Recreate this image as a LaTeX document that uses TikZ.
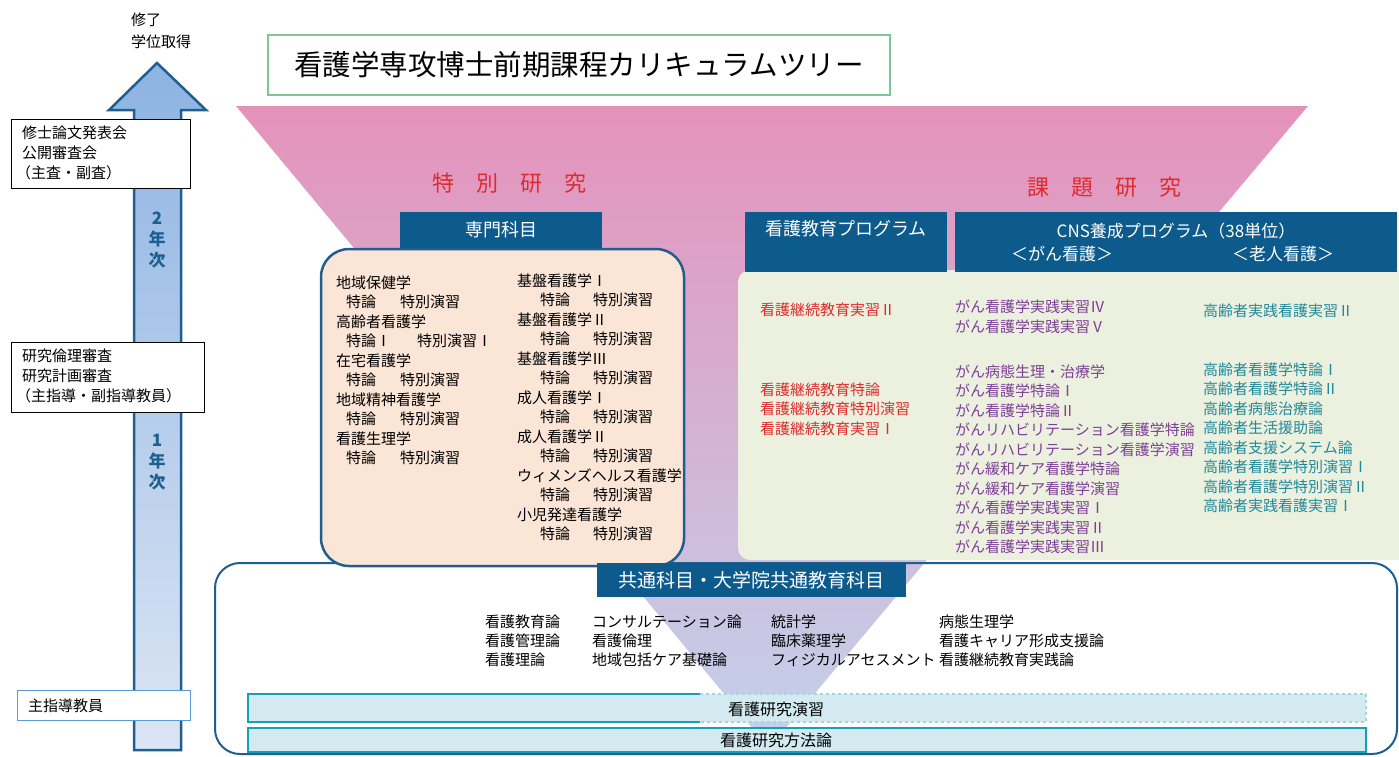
\documentclass[tikz,border=0pt]{standalone}
\usepackage{fontspec}
\setmainfont{Noto Sans CJK JP}
\definecolor{navy}{HTML}{0C5B8C}
\definecolor{edgeblue}{HTML}{1F5F8F}
\definecolor{peach}{HTML}{FBE5D6}
\definecolor{paleg}{HTML}{EBF1DE}
\definecolor{redt}{HTML}{DD2B2E}
\definecolor{purt}{HTML}{7E3F98}
\definecolor{tealt}{HTML}{22899A}
\definecolor{barfill}{HTML}{D2EAF0}
\definecolor{barline}{HTML}{14A0B6}
\definecolor{barlight}{HTML}{A5D6E0}
\definecolor{titleg}{HTML}{7DC794}
\definecolor{funtop}{HTML}{E592BB}
\definecolor{funmid}{HTML}{D3C2E4}
\definecolor{funbot}{HTML}{C3D2EC}
\definecolor{arrtop}{HTML}{8DB3E2}
\definecolor{arrbot}{HTML}{DCE5F4}
\definecolor{infobox}{HTML}{5B9BD5}
\begin{document}
\begin{tikzpicture}[x=1pt,y=-1pt,
  every node/.style={inner sep=0pt},
  txt/.style={anchor=base west,font=\fontsize{15}{19}\selectfont},
  hdr/.style={fill=navy,text=white,font=\fontsize{18}{22}\selectfont},
  redl/.style={txt,text=redt},
  purl/.style={txt,text=purt},
  teall/.style={txt,text=tealt},
  sidebox/.style={draw=black,fill=white,line width=0.8pt}]
\useasboundingbox (0,0) rectangle (1399,756);
% funnel
\shade[top color=funtop,middle color=funmid,bottom color=funbot]
  (236,106) -- (1308,106) -- (769,748) -- cycle;
% title
\node[draw=titleg,line width=1.5pt,fill=white,minimum width=622,minimum height=60,
  font=\fontsize{28.5}{30}\selectfont] (title) at (579,65) {看護学専攻博士前期課程カリキュラムツリー};
% progress arrow
\shade[top color=arrtop,bottom color=arrbot,draw=edgeblue,line width=2.5pt,line join=miter]
  (134,750) -- (134,110) -- (109,110) -- (157,63) -- (206,110) -- (181,110) -- (181,750) -- cycle;
\node[font=\fontsize{17}{20}\selectfont\bfseries,text=edgeblue,align=center] (y2) at (157,240) {2\\[1pt]年\\[1pt]次};
\node[font=\fontsize{17}{20}\selectfont\bfseries,text=edgeblue,align=center] (y1) at (157,462) {1\\[1pt]年\\[1pt]次};
% top labels
\node[txt] (fin1) at (131,25) {修了};
\node[txt] (fin2) at (131,47) {学位取得};
% side boxes
\draw[sidebox] (11,119) rectangle (190,188);
\node[txt] (s1a) at (22,138) {修士論文発表会};
\node[txt] (s1b) at (22,158) {公開審査会};
\node[txt] (s1c) at (16,178) {（主査・副査）};
\draw[sidebox] (11,342) rectangle (204,412);
\node[txt] (s2a) at (22,361) {研究倫理審査};
\node[txt] (s2b) at (22,381) {研究計画審査};
\node[txt] (s2c) at (16,401) {（主指導・副指導教員）};
\draw[draw=infobox,fill=white,line width=0.8pt] (17,690) rectangle (190,720);
\node[txt] (s3) at (28,711) {主指導教員};
% section titles
\node[font=\fontsize{22}{24}\selectfont,text=redt] (tb) at (509,183) {特　別　研　究};
\node[font=\fontsize{22}{24}\selectfont,text=redt] (kd) at (1104,187) {課　題　研　究};
% common box
\draw[edgeblue,line width=2pt,rounded corners=25pt] (215,563) rectangle (1397,754);
% peach box
\draw[fill=peach,draw=edgeblue,line width=2.5pt,rounded corners=28pt] (321,249) rectangle (684,566);
\node[hdr,minimum width=202,minimum height=36] (senmon) at (501,230) {専門科目};
% green box
\fill[paleg,rounded corners=12pt] (738,270) rectangle (1420,560);
\node[hdr,minimum width=202,minimum height=60] (kpbox) at (846,242) {};
\node[font=\fontsize{18}{22}\selectfont,text=white] (kpt) at (846,229) {看護教育プログラム};
\node[hdr,minimum width=442,minimum height=60] (cnsbox) at (1176,242) {};
\node[font=\fontsize{17}{22}\selectfont,text=white] (cns1) at (1176,231) {CNS養成プログラム（38単位）};
\node[font=\fontsize{17}{22}\selectfont,text=white] (cns2) at (1062,254) {＜がん看護＞};
\node[font=\fontsize{17}{22}\selectfont,text=white] (cns3) at (1283,254) {＜老人看護＞};
% peach contents
\foreach \h [count=\i from 0] in {地域保健学,高齢者看護学,在宅看護学,地域精神看護学,看護生理学}
  \node[txt] (lh\i) at (336,{288+39*\i}) {\h};
\foreach \i in {0,2,3,4} {
  \node[txt] (ls\i) at (346,{307.5+39*\i}) {特論};
  \node[txt] (lt\i) at (400,{307.5+39*\i}) {特別演習};
}
\node[txt] (ls1) at (346,346.5) {特論Ⅰ};
\node[txt] (lt1) at (417,346.5) {特別演習Ⅰ};
\foreach \h [count=\i from 0] in {基盤看護学Ⅰ,基盤看護学Ⅱ,基盤看護学Ⅲ,成人看護学Ⅰ,成人看護学Ⅱ,ウィメンズヘルス看護学,小児発達看護学} {
  \node[txt] (rh\i) at (517,{286+39*\i}) {\h};
  \node[txt] (rs\i) at (540,{305.5+39*\i}) {特論};
  \node[txt] (rt\i) at (593,{305.5+39*\i}) {特別演習};
}
% education program
\node[redl] (ed0) at (760,315) {看護継続教育実習Ⅱ};
\node[redl] (ed1) at (760,395) {看護継続教育特論};
\node[redl] (ed2) at (760,414.5) {看護継続教育特別演習};
\node[redl] (ed3) at (760,434) {看護継続教育実習Ⅰ};
% cancer
\node[purl] (ca0) at (955,312) {がん看護学実践実習Ⅳ};
\node[purl] (cb0) at (955,332) {がん看護学実践実習Ⅴ};
\foreach \h [count=\i from 0] in {がん病態生理・治療学,がん看護学特論Ⅰ,がん看護学特論Ⅱ,がんリハビリテーション看護学特論,がんリハビリテーション看護学演習,がん緩和ケア看護学特論,がん緩和ケア看護学演習,がん看護学実践実習Ⅰ,がん看護学実践実習Ⅱ,がん看護学実践実習Ⅲ}
  \node[purl] (cc\i) at (955,{377+19.5*\i}) {\h};
% elderly
\node[teall] (el0) at (1203,316) {高齢者実践看護実習Ⅱ};
\foreach \h [count=\i from 0] in {高齢者看護学特論Ⅰ,高齢者看護学特論Ⅱ,高齢者病態治療論,高齢者生活援助論,高齢者支援システム論,高齢者看護学特別演習Ⅰ,高齢者看護学特別演習Ⅱ,高齢者実践看護実習Ⅰ}
  \node[teall] (em\i) at (1203,{375+19.5*\i}) {\h};
% common subjects
\node[hdr,minimum width=309,minimum height=34,font=\fontsize{19}{22}\selectfont] (common) at (751,580) {共通科目・大学院共通教育科目};
\foreach \a/\b/\c/\d [count=\i from 0] in {看護教育論/コンサルテーション論/統計学/病態生理学,看護管理論/看護倫理/臨床薬理学/看護キャリア形成支援論,看護理論/地域包括ケア基礎論/フィジカルアセスメント/看護継続教育実践論} {
  \node[txt] (ka\i) at (485,{627+19*\i}) {\a};
  \node[txt] (kb\i) at (592,{627+19*\i}) {\b};
  \node[txt] (kc\i) at (771,{627+19*\i}) {\c};
  \node[txt] (kd\i) at (939,{627+19*\i}) {\d};
}
% bars
\fill[barfill] (248,694) rectangle (1366,722);
\draw[barline,line width=2.5pt] (700,694) -- (248,694) -- (248,722) -- (700,722);
\draw[barlight,line width=2.5pt,dashed] (700,694) -- (1366,694) -- (1366,722) -- (700,722);
\node[font=\fontsize{16}{20}\selectfont] (bar1) at (776,709) {看護研究演習};
\draw[fill=barfill,draw=barline,line width=2.5pt] (248,728) rectangle (1366,752);
\node[font=\fontsize{16}{20}\selectfont] (bar2) at (776,740) {看護研究方法論};
\end{tikzpicture}
\end{document}
